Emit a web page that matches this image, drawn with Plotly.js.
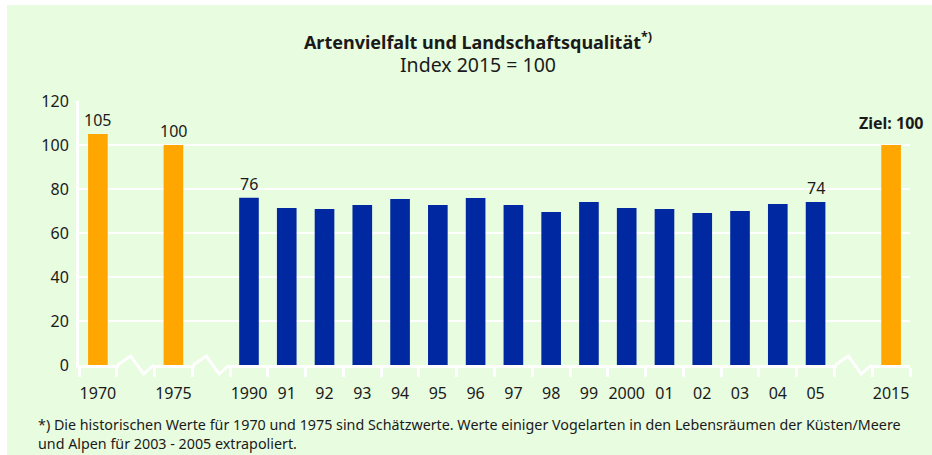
<!DOCTYPE html>
<html>
<head>
<meta charset="utf-8">
<script src="https://cdn.plot.ly/plotly-3.0.1.min.js"></script>
<style>
  html, body { margin: 0; padding: 0; background: #ffffff; }
  #chart { position: absolute; left: 7px; top: 5px; width: 925px; height: 450px; }
</style>
</head>
<body>
<div id="chart"></div>
<script>
// ---- data ----
const categories = ["1970", "1975", "1990", "91", "92", "93", "94", "95", "96", "97", "98", "99", "2000", "01", "02", "03", "04", "05", "2015"];
const values     = [105, 100, 76, 71.4, 70.9, 72.7, 75.5, 72.7, 75.9, 72.7, 69.5, 74.1, 71.4, 70.9, 69.1, 70.0, 73.2, 74.1, 100];
const kinds      = ["estimate", "estimate", "observed", "observed", "observed", "observed", "observed", "observed", "observed", "observed", "observed", "observed", "observed", "observed", "observed", "observed", "observed", "observed", "target"];
const breakAfter = ["1970", "1975", "05"];
const labelled   = {"1970": "105", "1975": "100", "1990": "76", "05": "74"};
const targetLabel = "Ziel: 100";
const titleMain  = "Artenvielfalt und Landschaftsqualität";
const titleSub   = "Index 2015 = 100";
const footnote   = "*) Die historischen Werte für 1970 und 1975 sind Schätzwerte. Werte einiger Vogelarten in den Lebensräumen der Küsten/Meere<br>und Alpen für 2003 - 2005 extrapoliert.";

// ---- layout helpers ----
const BG = "#E8FCE0";
const ORANGE = "#FFA600";
const BLUE = "#0028A0";
const TXT = "#1a1a1a";
const FONT = "Noto Sans, Open Sans, sans-serif";

// compute positions with gaps for axis breaks
const positions = [];
const breaks = [];
let p = 0;
categories.forEach((c, i) => {
  positions.push(p);
  p += 1;
  if (breakAfter.includes(c)) { breaks.push(p); p += 1; }
});
const xmin = -0.5, xmax = positions[positions.length - 1] + 0.5;
const boundaries = [];
for (let b = xmin; b <= xmax + 1e-9; b += 1) boundaries.push(b);
const toPaper = v => (v - xmin) / (xmax - xmin);

const colors = kinds.map(k => k === "observed" ? BLUE : ORANGE);

const trace = {
  type: "bar",
  x: positions,
  y: values,
  width: 0.52,
  marker: { color: colors, line: { width: 0 } },
  hoverinfo: "skip"
};

const annotations = [];
categories.forEach((c, i) => {
  if (labelled[c] !== undefined) {
    annotations.push({
      x: positions[i], y: values[i], xref: "x", yref: "y",
      text: labelled[c], showarrow: false, yanchor: "bottom", yshift: 1,
      font: { family: FONT, size: 16, color: TXT }
    });
  }
  if (kinds[i] === "target") {
    annotations.push({
      x: positions[i], y: values[i], xref: "x", yref: "y",
      text: "<b>" + targetLabel + "</b>", showarrow: false, yanchor: "bottom", yshift: 9,
      font: { family: FONT, size: 16, color: TXT }
    });
  }
});
annotations.push({
  xref: "paper", yref: "paper", x: -43 / 831, y: 0, xanchor: "left", yanchor: "top",
  yshift: -48, align: "left", showarrow: false, text: footnote,
  font: { family: FONT, size: 14.3, color: TXT }
});

const shapes = [];
breaks.forEach(bp => {
  shapes.push({
    type: "rect", layer: "above", xref: "paper", yref: "paper",
    x0: toPaper(bp - 0.44), x1: toPaper(bp + 0.44),
    ysizemode: "pixel", yanchor: 0, y0: -3, y1: 3,
    fillcolor: BG, line: { width: 0 }
  });
  shapes.push({
    type: "path", layer: "above", xref: "paper", yref: "paper",
    xsizemode: "pixel", xanchor: toPaper(bp), ysizemode: "pixel", yanchor: 0,
    path: "M-18,0 L-5,9 L8,-9 L18,0",
    line: { color: "#ffffff", width: 3 }
  });
});

const layout = {
  width: 925, height: 450,
  margin: { l: 72, r: 22, t: 96, b: 90 },
  paper_bgcolor: BG, plot_bgcolor: BG,
  showlegend: false,
  font: { family: FONT, size: 16, color: TXT },
  title: {
    text: "<b>" + titleMain + "<sup>*)</sup></b><br><span style=\"font-size:19.5px\">" + titleSub + "</span>",
    xref: "container", x: 471 / 925, xanchor: "center",
    yref: "container", y: 1 - 44 / 450, yanchor: "top",
    font: { family: FONT, size: 18, color: TXT }
  },
  xaxis: {
    range: [xmin, xmax],
    tickvals: positions, ticktext: categories,
    ticks: "", showgrid: false, zeroline: false,
    showline: true, linecolor: "#ffffff", linewidth: 3,
    ticklabelstandoff: 12,
    tickfont: { family: FONT, size: 16, color: TXT },
    minor: { tickvals: boundaries, ticks: "outside", ticklen: 9, tickwidth: 3, tickcolor: "#ffffff", showgrid: false },
    fixedrange: true
  },
  yaxis: {
    range: [0, 120], dtick: 20, tick0: 0,
    showgrid: true, gridcolor: "#ffffff", gridwidth: 2,
    zeroline: false, showline: true, linecolor: "#ffffff", linewidth: 3,
    ticks: "", ticklabelstandoff: 4,
    tickfont: { family: FONT, size: 16, color: TXT },
    fixedrange: true
  },
  annotations: annotations,
  shapes: shapes
};

Plotly.newPlot("chart", [trace], layout, { displayModeBar: false, staticPlot: true });
</script>
</body>
</html>
